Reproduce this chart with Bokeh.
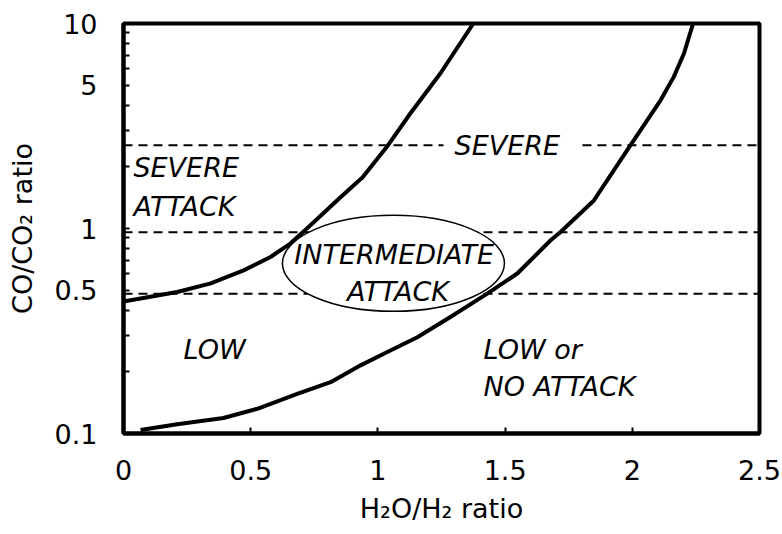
from bokeh.plotting import figure
from bokeh.models import FixedTicker, CustomJSTickFormatter, Label
from bokeh.embed import file_html
from bokeh.resources import INLINE

# ---- data ----
left_x = [0.0, 0.211, 0.343, 0.472, 0.578, 0.657, 0.736, 0.853, 0.94, 1.04, 1.128, 1.246, 1.375]
left_y = [0.44, 0.49, 0.54, 0.625, 0.726, 0.847, 1.04, 1.42, 1.78, 2.55, 3.65, 5.72, 10.0]

right_x = [0.067, 0.211, 0.393, 0.526, 0.683, 0.814, 0.932, 1.023, 1.155, 1.285, 1.43,
           1.548, 1.679, 1.718, 1.849, 1.98, 2.111, 2.163, 2.203, 2.239]
right_y = [0.104, 0.111, 0.119, 0.132, 0.156, 0.178, 0.215, 0.245, 0.295, 0.37, 0.481,
           0.603, 0.876, 0.961, 1.37, 2.41, 4.22, 5.49, 7.14, 10.0]

# dashed boundaries (CO/CO2 levels)
level_severe = 2.55
level_one = 0.96
level_half = 0.48
severe_gap = (1.258, 1.804)

x_ticks = [0, 0.5, 1, 1.5, 2, 2.5]
y_ticks = [0.1, 0.5, 1, 5, 10]
y_minor = [0.2, 0.3, 0.4, 0.6, 0.7, 0.8, 0.9, 2, 3, 4, 6, 7, 8, 9]

# region labels: (text, x, y, align)
labels = [
    ("SEVERE", 1.509, 2.55, "center"),
    ("SEVERE", 0.039, 1.98, "left"),
    ("ATTACK", 0.039, 1.276, "left"),
    ("INTERMEDIATE", 1.064, 0.744, "center"),
    ("ATTACK", 1.079, 0.494, "center"),
    ("LOW", 0.236, 0.257, "left"),
    ("LOW or", 1.415, 0.257, "left"),
    ("NO ATTACK", 1.415, 0.170, "left"),
]

ellipse_center = (1.061, 0.676)
ellipse_size_px = (222, 96)

FONT = "DejaVu Sans"

p = figure(width=782, height=534, x_range=(0, 2.5), y_range=(0.1, 10),
           y_axis_type="log", output_backend="svg", toolbar_location=None,
           min_border_left=123, min_border_right=23, min_border_top=23,
           min_border_bottom=101)

p.xgrid.visible = False
p.ygrid.visible = False
p.outline_line_color = "black"
p.outline_line_width = 4
p.background_fill_color = "white"
p.border_fill_color = "white"

# dashed lines
p.segment(x0=[0, severe_gap[1], 0, 0], x1=[severe_gap[0], 2.5, 2.5, 2.5],
          y0=[level_severe, level_severe, level_one, level_half],
          y1=[level_severe, level_severe, level_one, level_half],
          line_color="black", line_width=2, line_dash="9 6")

# ellipse around intermediate region
p.ellipse(x=[ellipse_center[0]], y=[ellipse_center[1]],
          width=[ellipse_size_px[0]], height=[ellipse_size_px[1]],
          width_units="screen", height_units="screen",
          fill_color="white", line_color="black", line_width=1.5)

# boundary curves
p.line(left_x, left_y, line_color="black", line_width=4, line_join="round")
p.line(right_x, right_y, line_color="black", line_width=4, line_join="round")

for txt, x, y, align in labels:
    p.add_layout(Label(x=x, y=y, text=txt, text_align=align, text_baseline="middle",
                       text_font=FONT, text_font_style="italic", text_font_size="27px",
                       text_color="black"))

# axes
fmt = CustomJSTickFormatter(code="return tick.toString();")
p.xaxis.ticker = FixedTicker(ticks=x_ticks)
p.yaxis.ticker = FixedTicker(ticks=y_ticks, minor_ticks=y_minor)
for ax in (p.xaxis[0], p.yaxis[0]):
    ax.formatter = fmt
    ax.axis_line_color = "black"
    ax.axis_line_width = 4
    ax.major_tick_in = 6
    ax.major_tick_out = 0
    ax.minor_tick_in = 6
    ax.minor_tick_out = 0
    ax.major_tick_line_width = 2
    ax.minor_tick_line_width = 2
    ax.major_label_text_font = FONT
    ax.major_label_text_font_size = "27px"
    ax.major_label_text_color = "black"
    ax.major_label_standoff = 26
    ax.axis_label_text_font = FONT
    ax.axis_label_text_font_size = "27px"
    ax.axis_label_text_font_style = "normal"
    ax.axis_label_text_color = "black"
p.xaxis.minor_tick_line_color = None
p.xaxis.axis_label = "H₂O/H₂ ratio"
p.yaxis.axis_label = "CO/CO₂ ratio"
p.xaxis.axis_label_standoff = 10
p.yaxis.axis_label_standoff = 14

open("out.html", "w").write(file_html(p, INLINE))
